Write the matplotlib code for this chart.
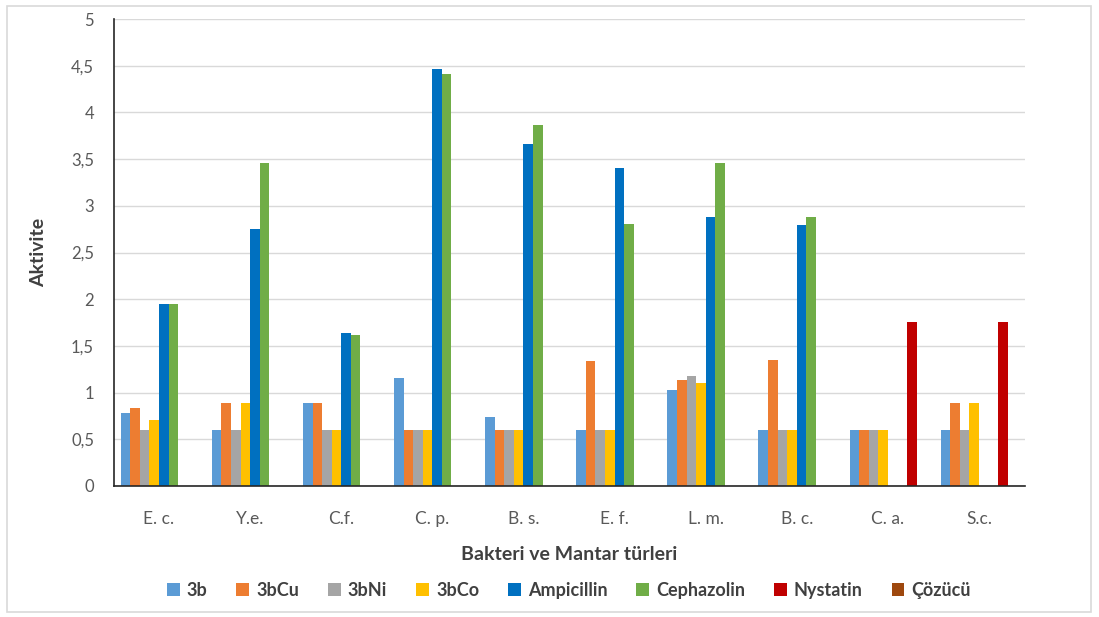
import numpy as np
import matplotlib.pyplot as plt
from matplotlib.patches import Rectangle

plt.rcParams['font.family'] = ['Lato', 'DejaVu Sans']

# Data
categories = ['E. c.', 'Y.e.', 'C.f.', 'C. p.', 'B. s.', 'E. f.', 'L. m.', 'B. c.', 'C. a.', 'S.c.']
s_3b = [0.78, 0.60, 0.89, 1.16, 0.735, 0.60, 1.03, 0.60, 0.60, 0.60]
s_3bcu = [0.84, 0.89, 0.89, 0.60, 0.60, 1.34, 1.14, 1.35, 0.60, 0.89]
s_3bni = [0.60, 0.60, 0.60, 0.60, 0.60, 0.60, 1.18, 0.60, 0.60, 0.60]
s_3bco = [0.71, 0.89, 0.60, 0.60, 0.60, 0.60, 1.10, 0.60, 0.60, 0.89]
ampicillin = [1.945, 2.75, 1.635, 4.47, 3.66, 3.40, 2.88, 2.795, 0, 0]
cephazolin = [1.945, 3.46, 1.62, 4.415, 3.86, 2.805, 3.455, 2.88, 0, 0]
nystatin = [0, 0, 0, 0, 0, 0, 0, 0, 1.755, 1.755]
cozucu = [0, 0, 0, 0, 0, 0, 0, 0, 0, 0]

series_names = ['3b', '3bCu', '3bNi', '3bCo', 'Ampicillin', 'Cephazolin', 'Nystatin', 'Çözücü']
series_values = [s_3b, s_3bcu, s_3bni, s_3bco, ampicillin, cephazolin, nystatin, cozucu]
colors = ['#5B9BD5', '#ED7D31', '#A5A5A5', '#FFC000', '#0070C0', '#70AD47', '#C00000', '#9E480E']

fig = plt.figure(figsize=(10.99, 6.17), dpi=100)
ax = fig.add_axes([113.5 / 1099, 1 - 486 / 617, 911 / 1099, 467 / 617])

# outer light frame like the exported chart area
fig.patches.append(Rectangle((7 / 1099, 5 / 617), 1084 / 1099, 606 / 617,
                             transform=fig.transFigure, fill=False,
                             edgecolor='#d9d9d9', lw=1.2))

x = np.arange(len(categories))
width = 0.105
n = len(series_names)
for i, (name, vals, c) in enumerate(zip(series_names, series_values, colors)):
    offs = (i - (n - 1) / 2) * width
    ax.bar(x + offs, vals, width, color=c, label=name, linewidth=0, zorder=3)

ax.set_xlim(-0.5, len(categories) - 0.5)
ax.set_ylim(0, 5)
yt = np.arange(0, 5.01, 0.5)
ax.set_yticks(yt)
ax.set_yticklabels([f'{v:g}'.replace('.', ',') for v in yt])
ax.set_xticks(x)
ax.set_xticklabels(categories)
ax.tick_params(axis='both', length=0, colors='#595959', labelsize=12)
ax.tick_params(axis='x', pad=18, labelsize=12.5)
ax.tick_params(axis='y', pad=14)

ax.grid(axis='y', color='#d9d9d9', linewidth=1, zorder=0)
for s in ['top', 'right']:
    ax.spines[s].set_visible(False)
ax.spines['left'].set_color('#262626')
ax.spines['bottom'].set_color('#262626')
ax.spines['left'].set_linewidth(1.2)
ax.spines['bottom'].set_linewidth(1.2)
ax.spines['bottom'].set_zorder(4)

ax.set_xlabel('Bakteri ve Mantar türleri', fontsize=14, fontweight='bold', color='#404040', labelpad=14)
ax.set_ylabel('Aktivite', fontsize=14, fontweight='bold', color='#404040', labelpad=17)

leg = ax.legend(loc='upper center', bbox_to_anchor=(0.5, -0.17), ncol=8, frameon=False,
                handlelength=0.7, handleheight=0.7, handletextpad=0.4, columnspacing=1.6,
                prop={'weight': 'bold', 'size': 13})
for t in leg.get_texts():
    t.set_color('#404040')

fig.savefig('out.png', dpi=100)
